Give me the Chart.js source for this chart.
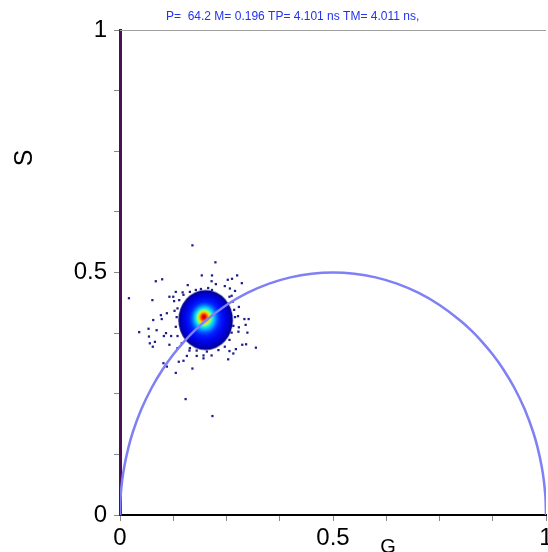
<!DOCTYPE html>
<html><head><meta charset="utf-8">
<script src="https://cdn.jsdelivr.net/npm/chart.js@4.4.1/dist/chart.umd.min.js"></script>
<style>html,body{margin:0;padding:0;background:#fff;overflow:hidden}#wrap{width:548px;height:552px}</style>
</head><body><div id="wrap"><canvas id="c" width="548" height="552"></canvas></div>
<script>
const titleText = 'P=  64.2 M= 0.196 TP= 4.101 ns TM= 4.011 ns,';
const xTitle = 'G';
const yTitle = 'S';
const tickLabelValues = [0, 0.5, 1];
const tickLabels = ['0', '0.5', '1'];

// universal semicircle
const circleG = [0, 0.001, 0.002, 0.005, 0.01, 0.02, 0.03, 0.05, 0.075, 0.1, 0.125, 0.15, 0.175, 0.2, 0.25, 0.3, 0.35, 0.4, 0.45, 0.5, 0.55, 0.6, 0.65, 0.7, 0.75, 0.8, 0.825, 0.85, 0.875, 0.9, 0.925, 0.95, 0.97, 0.98, 0.99, 0.995, 0.998, 0.999, 1];
const circleS = [0, 0.0316, 0.0447, 0.0705, 0.0995, 0.14, 0.1706, 0.2179, 0.2634, 0.3, 0.3307, 0.3571, 0.38, 0.4, 0.433, 0.4583, 0.477, 0.4899, 0.4975, 0.5, 0.4975, 0.4899, 0.477, 0.4583, 0.433, 0.4, 0.38, 0.3571, 0.3307, 0.3, 0.2634, 0.2179, 0.1706, 0.14, 0.0995, 0.0705, 0.0447, 0.0316, 0];

// dense phasor cloud (centre and extent in data units)
const blobG = [0.201];
const blobS = [0.402];
const blobSpreadG = [0.064];
const blobSpreadS = [0.062];

// sparse outlying pixels
const outlierG = [0.170,0.224,0.192,0.216,0.275,0.253,0.263,0.084,0.099,0.215,
0.286,0.159,0.225,0.246,0.258,0.270,0.131,0.147,0.116,0.125,
0.076,0.127,0.262,0.279,0.128,0.110,0.096,0.277,0.292,0.302,
0.098,0.078,0.067,0.086,0.108,0.120,0.103,0.279,0.299,0.070,
0.082,0.077,0.116,0.135,0.296,0.319,0.287,0.272,0.163,0.157,
0.180,0.196,0.215,0.257,0.266,0.254,0.196,0.149,0.138,0.102,
0.110,0.170,0.131,0.154,0.217,0.021,0.045,0.068,0.295,0.278];
const outlierS = [0.556,0.521,0.494,0.494,0.494,0.485,0.487,0.482,0.486,0.482,
0.478,0.474,0.476,0.472,0.467,0.462,0.460,0.459,0.450,0.450,
0.443,0.441,0.452,0.429,0.421,0.416,0.412,0.410,0.404,0.404,
0.404,0.402,0.384,0.381,0.375,0.369,0.369,0.387,0.376,0.354,
0.357,0.347,0.351,0.344,0.352,0.345,0.351,0.342,0.339,0.328,
0.328,0.329,0.329,0.338,0.333,0.321,0.323,0.318,0.316,0.313,
0.306,0.302,0.293,0.239,0.204,0.447,0.377,0.368,0.392,0.378];

// ragged boundary pixels of the cloud
const edgeG = [0.164,0.178,0.190,0.207,0.216,0.257,0.265,0.268,0.270,0.266,0.262,0.257,0.246,0.231,0.204,0.180,0.164,0.145,0.135,0.131,0.133,0.135,0.139,0.149];
const edgeS = [0.460,0.464,0.466,0.468,0.464,0.450,0.440,0.423,0.408,0.390,0.376,0.361,0.347,0.340,0.337,0.339,0.344,0.354,0.369,0.388,0.408,0.426,0.443,0.454];

const FONT = 'Arial, "Liberation Sans", sans-serif';

let blobCache = null;
function makeBlob(chart) {
  if (blobCache) return blobCache;
  const xs = chart.scales && chart.scales.x, ys = chart.scales && chart.scales.y;
  if (!xs || !ys) return 'circle';
  const rx = Math.abs(xs.getPixelForValue(blobG[0] + blobSpreadG[0]) - xs.getPixelForValue(blobG[0]));
  const ry = Math.abs(ys.getPixelForValue(blobS[0] + blobSpreadS[0]) - ys.getPixelForValue(blobS[0]));
  if (!isFinite(rx) || !isFinite(ry) || rx < 2 || ry < 2) return 'circle';
  const w = Math.ceil(2 * rx) + 2, h = Math.ceil(2 * ry) + 2;
  const cv = document.createElement('canvas');
  cv.width = w; cv.height = h;
  const c = cv.getContext('2d');
  c.translate(w / 2, h / 2);
  c.scale(1, ry / rx);
  const g = c.createRadialGradient(-2, -3, 0, 0, 0, rx);
  const stops = [[0,'#c00000'],[0.06,'#f00000'],[0.12,'#ff6000'],[0.18,'#ffd000'],[0.24,'#a0ff60'],[0.30,'#20f0e0'],[0.38,'#00b0ff'],[0.46,'#0060ff'],[0.56,'#0020ff'],[0.7,'#0008f0'],[0.85,'#0000d0'],[0.95,'#0000a0'],[1,'#000080']];
  stops.forEach(s => g.addColorStop(s[0], s[1]));
  c.fillStyle = g;
  c.beginPath(); c.arc(0, 0, rx, 0, Math.PI * 2); c.fill();
  blobCache = cv;
  return cv;
}

const decor = {
  id: 'decor',
  afterDraw(chart) {
    const ctx = chart.ctx, a = chart.chartArea;
    ctx.save();
    ctx.strokeStyle = '#a0a0a0'; ctx.lineWidth = 1;
    ctx.beginPath(); ctx.moveTo(a.left, a.top + 0.5); ctx.lineTo(a.right, a.top + 0.5); ctx.stroke();
    ctx.fillStyle = '#2233ee';
    ctx.font = '12px ' + FONT;
    ctx.textAlign = 'left'; ctx.textBaseline = 'alphabetic';
    ctx.fillText(titleText, 166, 20);
    ctx.fillStyle = '#000';
    ctx.font = '20px ' + FONT;
    ctx.textAlign = 'center';
    ctx.fillText(xTitle, 388, 553);
    ctx.translate(32, 158);
    ctx.rotate(-Math.PI / 2);
    ctx.font = '25px ' + FONT;
    ctx.textAlign = 'center';
    ctx.fillText(yTitle, 0, 0);
    ctx.restore();
  }
};

function tickCb(v) {
  const i = tickLabelValues.findIndex(t => Math.abs(t - v) < 1e-9);
  return i >= 0 ? tickLabels[i] : '';
}

const chart = new Chart(document.getElementById('c'), {
  type: 'scatter',
  data: {
    datasets: [
      {
        type: 'line',
        data: circleG.map((g, i) => ({x: g, y: circleS[i]})),
        borderColor: '#7f7ff6',
        borderWidth: 2.5,
        pointRadius: 0,
        fill: false,
        cubicInterpolationMode: 'monotone',
        order: 0
      },
      {
        data: outlierG.map((g, i) => ({x: g, y: outlierS[i]})).concat(edgeG.map((g, i) => ({x: g, y: edgeS[i]}))),
        pointStyle: 'rect',
        pointRadius: 1.6,
        backgroundColor: '#1e1e8e',
        borderWidth: 0,
        order: 1
      },
      {
        data: blobG.map((g, i) => ({x: g, y: blobS[i]})),
        pointStyle: 'circle',
        pointRadius: 20,
        backgroundColor: '#0000e8',
        borderWidth: 0,
        order: 2
      }
    ]
  },
  options: {
    responsive: false,
    devicePixelRatio: 1,
    animation: false,
    events: [],
    layout: {autoPadding: false, padding: {top: 30, right: 2, left: 0, bottom: 0}},
    plugins: {legend: {display: false}, tooltip: {enabled: false}, title: {display: false}},
    scales: {
      x: {
        type: 'linear', min: 0, max: 1, position: 'bottom',
        ticks: {stepSize: 0.125, autoSkip: false, maxRotation: 0, callback: tickCb, color: '#000', font: {family: FONT, size: 24}, padding: 3},
        grid: {drawOnChartArea: false, drawTicks: true, tickLength: 6, tickColor: '#888', tickWidth: 1},
        border: {color: '#000', width: 2},
        afterFit(s) { s.height = 37; s.paddingLeft = 0; s.paddingRight = 0; }
      },
      y: {
        type: 'linear', min: 0, max: 1, position: 'left',
        ticks: {stepSize: 0.125, autoSkip: false, callback: tickCb, color: '#000', font: {family: FONT, size: 24}, padding: 7},
        grid: {drawOnChartArea: false, drawTicks: true, tickLength: 6, tickColor: '#888', tickWidth: 1},
        border: {color: '#4b0f55', width: 3},
        afterFit(s) { s.width = 120; s.paddingTop = 0; s.paddingBottom = 0; }
      }
    }
  },
  plugins: [decor]
});
chart.data.datasets[2].pointStyle = makeBlob(chart);
chart.update('none');
</script></body></html>
